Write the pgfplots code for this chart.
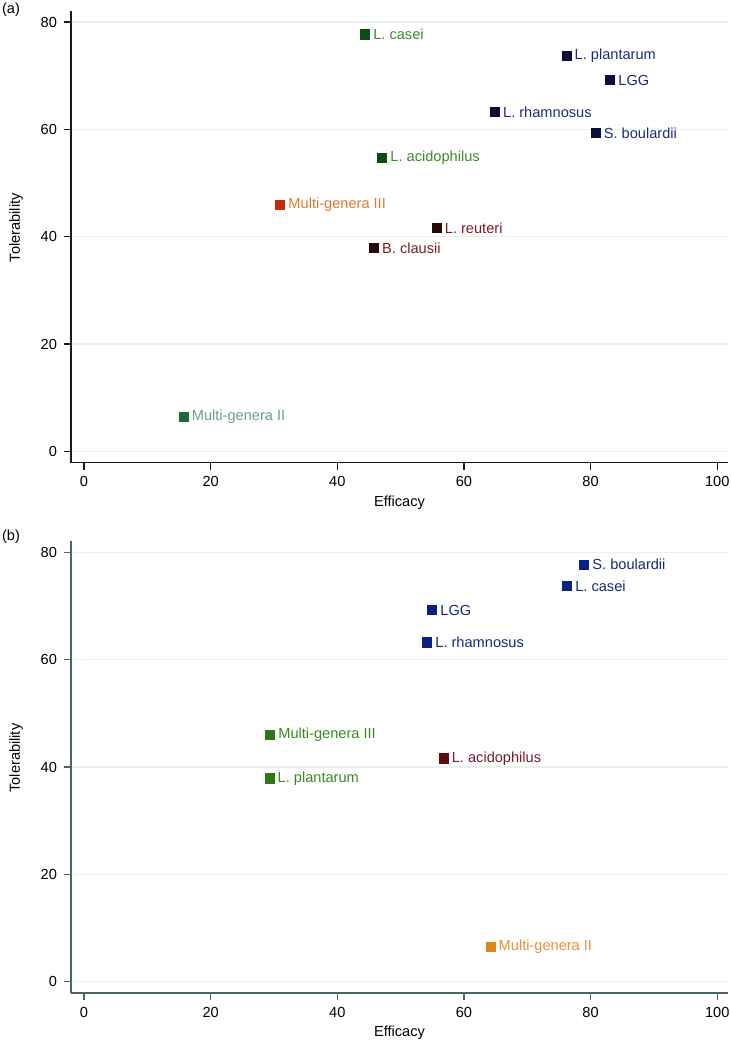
\documentclass[border=0pt]{standalone}
\usepackage{pgfplots}
\pgfplotsset{compat=1.18}
\usepackage{fontspec}
\setmainfont{Liberation Sans}
\definecolor{gridc}{HTML}{E8F0F0}
\definecolor{axa}{HTML}{1A1A1A}
\definecolor{axb}{HTML}{4A6468}
% panel a colours
\definecolor{aGm}{HTML}{0D4D12}\definecolor{aGt}{HTML}{3D8B2A}
\definecolor{aNm}{HTML}{0C0C3C}\definecolor{aNt}{HTML}{1C2C7C}
\definecolor{aRm}{HTML}{C42A0A}\definecolor{aRt}{HTML}{E07A30}
\definecolor{aBm}{HTML}{2A0808}\definecolor{aBt}{HTML}{7A1C22}
\definecolor{aSm}{HTML}{1A6A3A}\definecolor{aSt}{HTML}{6AA088}
% panel b colours
\definecolor{bBm}{HTML}{0C2080}\definecolor{bBt}{HTML}{14287C}
\definecolor{bGm}{HTML}{2D7A14}\definecolor{bGt}{HTML}{3A8A20}
\definecolor{bMm}{HTML}{5C0A0E}\definecolor{bMt}{HTML}{7A1A2A}
\definecolor{bOm}{HTML}{E0851E}\definecolor{bOt}{HTML}{E8903A}
\newcommand{\fs}{\fontsize{7.3}{8.8}\selectfont}
\newcommand{\lab}[5]{\addplot[only marks, mark=square*, mark size=2.3pt,
  mark options={fill=#3,draw=#3}, color=#3,
  nodes near coords, point meta=explicit symbolic,
  nodes near coords style={text=#4, anchor=west, inner sep=0pt, xshift=3.9pt, font=\fs}]
  coordinates {(#1,#2) [#5]};}
\pgfplotsset{
  panel/.style={
    scale only axis, width=328.5pt, height=225.85pt,
    xmin=-2.05, xmax=101.7, ymin=-2.1, ymax=82.05,
    axis x line*=bottom, axis y line*=left,
    xtick={0,20,40,60,80,100}, ytick={0,20,40,60,80},
    tick align=outside, major tick length=3.5pt, tick pos=left,
    ymajorgrids, grid style={color=gridc, line width=0.6pt},
    /pgf/number format/assume math mode=true,
    tick label style={font=\fs, text=black},
    label style={font=\fs, text=black},
    xlabel={Efficacy}, ylabel={Tolerability},
    x label style={at={(axis description cs:0.5,0)}, anchor=center, yshift=-20pt},
    y label style={at={(axis description cs:0,0.52)}, anchor=center, yshift=27.5pt},
    clip=false,
  }
}
\begin{document}
\begin{tikzpicture}
\path[use as bounding box] (0,0) rectangle (365.5pt,-522pt);
\node[font=\fs, anchor=center] at (5.5pt,-5pt) {(a)};
\node[font=\fs, anchor=center] at (5.5pt,-268.5pt) {(b)};
\begin{axis}[panel, at={(35.5pt,-231.35pt)}, anchor=south west,
  axis line style={color=axa, line width=0.7pt}, every tick/.style={color=axa, line width=0.7pt}]
\lab{44.4}{77.7}{aGm}{aGt}{L. casei}
\lab{76.2}{73.7}{aNm}{aNt}{L. plantarum}
\lab{83.1}{69.2}{aNm}{aNt}{LGG}
\lab{64.9}{63.2}{aNm}{aNt}{L. rhamnosus}
\lab{80.8}{59.3}{aNm}{aNt}{S. boulardii}
\lab{47.1}{54.7}{aGm}{aGt}{L. acidophilus}
\lab{31.0}{46.0}{aRm}{aRt}{Multi-genera III}
\lab{55.7}{41.6}{aBm}{aBt}{L. reuteri}
\lab{45.8}{37.9}{aBm}{aBt}{B. clausii}
\lab{15.75}{6.5}{aSm}{aSt}{Multi-genera II}
\end{axis}
\begin{axis}[panel, at={(35.5pt,-496.5pt)}, anchor=south west,
  axis line style={color=axb, line width=0.7pt}, every tick/.style={color=axb, line width=0.7pt}]
\lab{79.0}{77.7}{bBm}{bBt}{S. boulardii}
\lab{76.3}{73.7}{bBm}{bBt}{L. casei}
\lab{55.0}{69.2}{bBm}{bBt}{LGG}
\lab{54.2}{63.2}{bBm}{bBt}{L. rhamnosus}
\lab{29.4}{46.0}{bGm}{bGt}{Multi-genera III}
\lab{56.8}{41.6}{bMm}{bMt}{L. acidophilus}
\lab{29.3}{37.9}{bGm}{bGt}{L. plantarum}
\lab{64.2}{6.5}{bOm}{bOt}{Multi-genera II}
\end{axis}
\end{tikzpicture}
\end{document}
